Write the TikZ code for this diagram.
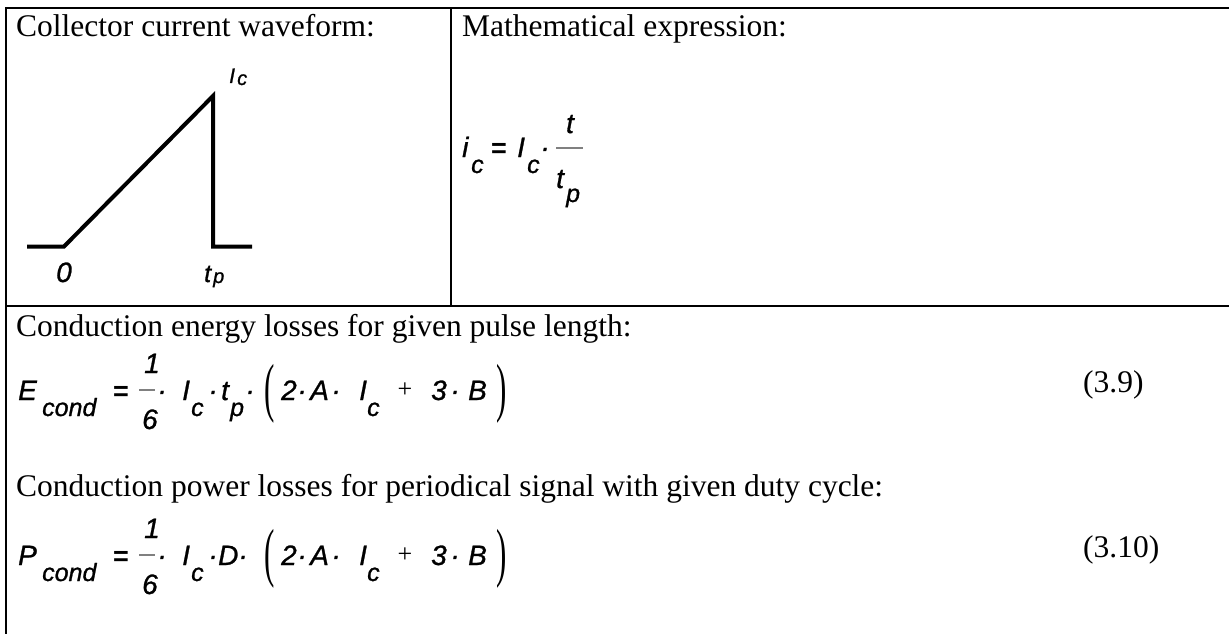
\documentclass[tikz,border=0pt]{standalone}
\usepackage{fontspec}
\usepackage{graphicx}
\setmainfont{Liberation Serif}
\newfontfamily\arfont{Liberation Sans}[ItalicFeatures={FakeBold=1.0}]
\tikzset{
 tx/.style={inner sep=0, anchor=base west, font=\fontsize{31.5}{36}\selectfont},
 mv/.style={inner sep=0, anchor=base west, font=\arfont\itshape\fontsize{28}{32}\selectfont},
 mvc/.style={mv, anchor=base},
 sb/.style={inner sep=0, anchor=base west, font=\arfont\itshape\fontsize{25}{30}\selectfont},
 eqsign/.style={inner sep=0, anchor=base west, font=\arfont\bfseries\fontsize{27}{30}\selectfont},
 plus/.style={inner sep=0, anchor=center, font=\fontsize{26}{30}\selectfont},
 paren/.style={inner sep=0, anchor=center, font=\fontsize{31}{36}\selectfont},
 tabrule/.style={line width=1.2pt},
 wave/.style={line width=4pt, line join=miter},
 fbar/.style={line width=1.2pt, gray}
}
\begin{document}
\begin{tikzpicture}[x=1pt,y=-1pt]
\useasboundingbox (0,0) rectangle (1229,634);
% table rules
\coordinate (tr) at (1229,8);
\coordinate (tl) at (6,8);
\coordinate (bl) at (6,634);
\coordinate (mt) at (451,8);
\coordinate (mb) at (451,306);
\coordinate (sl) at (6,306);
\coordinate (sr) at (1229,306);
\draw[tabrule] (tr) -- (tl) -- (bl);
\draw[tabrule] (mt) -- (mb);
\draw[tabrule] (sl) -- (sr);
% headers
\node[tx] (h1) at (16,37) {Collector current waveform:};
\node[tx] (h2) at (462,37) {Mathematical expression:};
\node[tx] (h3) at (16,336) {Conduction energy losses for given pulse length:};
\node[tx] (h4) at (16,496) {Conduction power losses for periodical signal with given duty cycle:};
% waveform
\coordinate (w0) at (27,246.5);
\coordinate (w1) at (64,246.5);
\coordinate (w2) at (213,96);
\coordinate (w3) at (213,246.5);
\coordinate (w4) at (252,246.5);
\draw[wave] (w0) -- (w1) -- (w2) -- (w3) -- (w4);
\node[mv, font=\arfont\itshape\fontsize{21}{24}\selectfont] (wI) at (229,83) {I};
\node[mv, font=\arfont\itshape\fontsize{20}{22}\selectfont] (wc) at (237,85) {c};
\node[mv] (w0l) at (56,282) {0};
\node[mv, font=\arfont\itshape\fontsize{25}{30}\selectfont] (wt) at (204,282) {t};
\node[mv, font=\arfont\itshape\fontsize{20}{24}\selectfont] (wp) at (213,283) {p};
% i_c = I_c t/t_p
\node[mv] (ii) at (462,157) {i};
\node[sb] (iic) at (471,173) {c};
\node[eqsign] (ieq) at (491,157) {=};
\node[mv] (iI) at (517,157) {I};
\node[sb] (iIc) at (527,173) {c};
\node[mvc] (idot) at (545,157) {·};
\coordinate (ib1) at (556,148);
\coordinate (ib2) at (583,148);
\draw[fbar] (ib1) -- (ib2);
\node[mvc] (inum) at (570,133) {t};
\node[mv] (iden) at (556,188) {t};
\node[sb] (idenp) at (566,202) {p};
% E_cond
\node[mv] (eE) at (18,400) {E};
\node[sb] (eEs) at (42,416) {cond};
\node[eqsign] (eeq) at (113,400) {=};
\coordinate (eb1) at (139,390);
\coordinate (eb2) at (155,390);
\draw[fbar] (eb1) -- (eb2);
\node[mvc] (e1) at (152,373) {1};
\node[mvc] (e6) at (150,429) {6};
\node[mvc] (ed1) at (162,400) {·};
\node[mv] (eI) at (182,400) {I};
\node[sb] (eIc) at (191,416) {c};
\node[mvc] (ed2) at (213,400) {·};
\node[mv] (et) at (221,400) {t};
\node[sb] (etp) at (230,416) {p};
\node[mvc] (ed3) at (250,400) {·};
\node[paren] (elp) at (270,394) {\scalebox{1}[2.1]{(}};
\node[mv] (e2) at (281,400) {2};
\node[mvc] (ed4) at (302,400) {·};
\node[mv] (eA) at (310,400) {A};
\node[mvc] (ed5) at (336,400) {·};
\node[mv] (eI2) at (359,400) {I};
\node[sb] (eI2c) at (367,416) {c};
\node[plus] (epl) at (405,390) {+};
\node[mv] (e3) at (431,400) {3};
\node[mvc] (ed6) at (455,400) {·};
\node[mv] (eB) at (468,400) {B};
\node[paren] (erp) at (502,394) {\scalebox{1}[2.1]{)}};
\node[tx] (en) at (1083,392) {(3.9)};
% P_cond
\node[mv] (pP) at (18,565) {P};
\node[sb] (pPs) at (42,581) {cond};
\node[eqsign] (peq) at (113,565) {=};
\coordinate (pb1) at (139,555);
\coordinate (pb2) at (155,555);
\draw[fbar] (pb1) -- (pb2);
\node[mvc] (p1) at (152,538) {1};
\node[mvc] (p6) at (150,594) {6};
\node[mvc] (pd1) at (162,565) {·};
\node[mv] (pI) at (182,565) {I};
\node[sb] (pIc) at (191,581) {c};
\node[mvc] (pd2) at (213,565) {·};
\node[mv] (pD) at (218,565) {D};
\node[mvc] (pd3) at (243,565) {·};
\node[paren] (plp) at (270,559) {\scalebox{1}[2.1]{(}};
\node[mv] (p2) at (281,565) {2};
\node[mvc] (pd4) at (302,565) {·};
\node[mv] (pA) at (310,565) {A};
\node[mvc] (pd5) at (336,565) {·};
\node[mv] (pI2) at (359,565) {I};
\node[sb] (pI2c) at (367,581) {c};
\node[plus] (ppl) at (405,555) {+};
\node[mv] (p3) at (431,565) {3};
\node[mvc] (pd6) at (455,565) {·};
\node[mv] (pB) at (468,565) {B};
\node[paren] (prp) at (502,559) {\scalebox{1}[2.1]{)}};
\node[tx] (pn) at (1083,557) {(3.10)};
\end{tikzpicture}
\end{document}
